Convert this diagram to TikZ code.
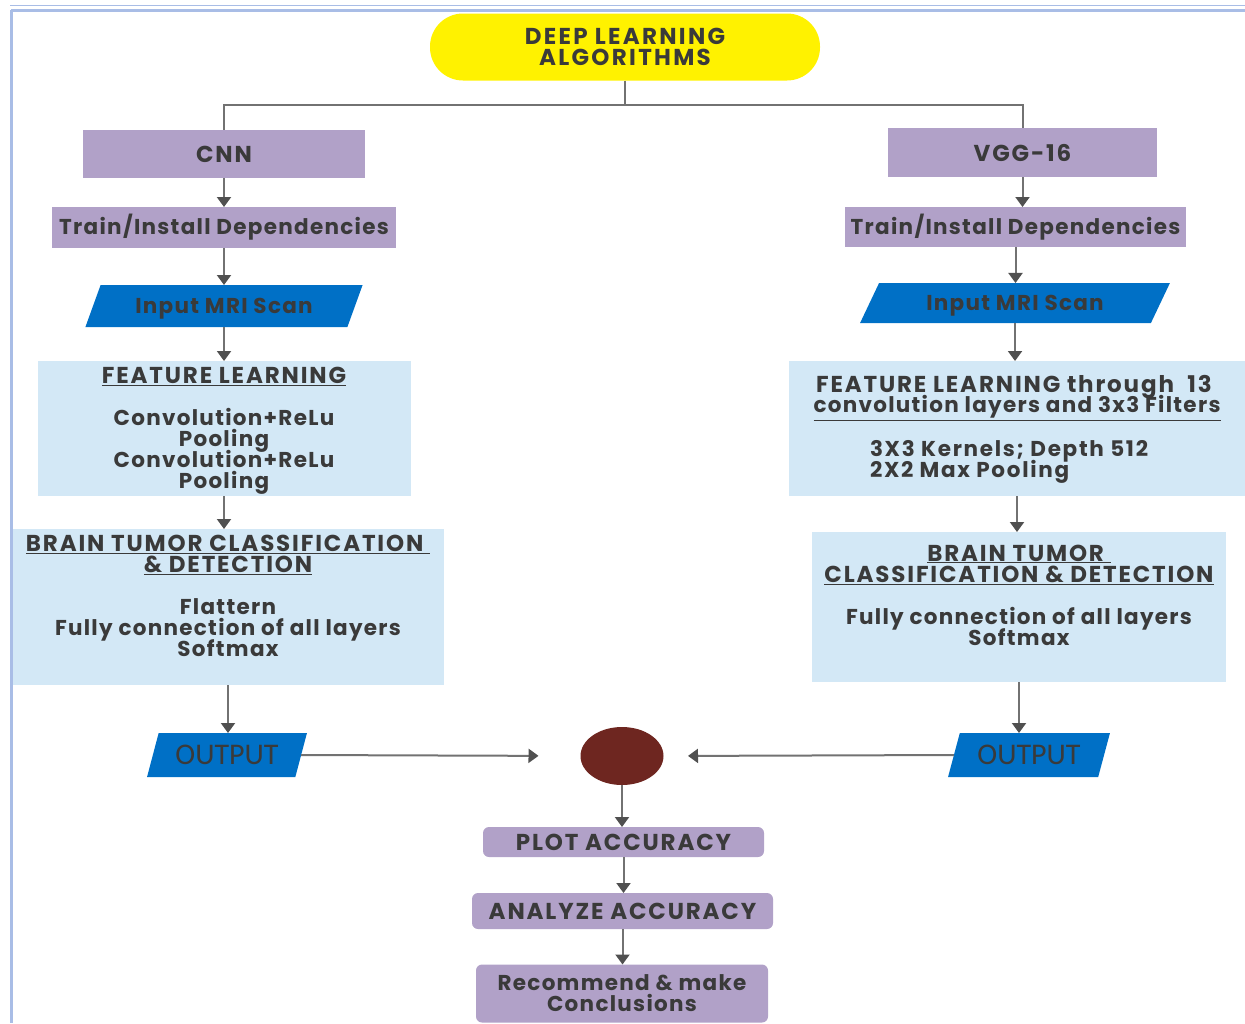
\documentclass[tikz,border=0pt]{standalone}
\usepackage{fontspec}
\setmainfont{Poppins}[LetterSpace=6.0]
\newfontfamily\capf{Poppins}[LetterSpace=8.0]
\newfontfamily\outfont{Carlito}
\usetikzlibrary{shapes.geometric,arrows.meta}
\definecolor{lav}{HTML}{B1A1C8}
\definecolor{lblue}{HTML}{D3E8F6}
\definecolor{pblue}{HTML}{0070C6}
\definecolor{dred}{HTML}{6E2620}
\definecolor{framec}{HTML}{A9BDE6}
\definecolor{txt}{HTML}{3A3A3A}
\definecolor{lnc}{HTML}{727272}
\definecolor{tipc}{HTML}{505050}
\newcommand\hcap[1]{{\capf\bfseries\fontsize{23}{21}\selectfont #1}}
\setlength{\lineskiplimit}{-100pt}
\begin{document}
\begin{tikzpicture}[x=1pt,y=-1pt,
  every node/.style={inner sep=0pt, outer sep=0pt, text=txt, font=\fontsize{21.5}{21}\selectfont\bfseries},
  purp/.style={rectangle, fill=lav},
  rpurp/.style={rectangle, fill=lav, rounded corners=6pt},
  lbox/.style={rectangle, fill=lblue},
  para/.style={trapezium, trapezium stretches=true, fill=pblue, trapezium left angle=#1, trapezium right angle=180-#1},
  txtn/.style={align=center},
  outtxt/.style={font=\outfont\fontsize{30}{30}\selectfont},
  conn/.style={draw=lnc, line width=2pt},
  arr/.style={conn, -{Triangle[width=14pt,length=10pt,color=tipc]}}
]
\useasboundingbox (0,0) rectangle (1245,1023);
% frame
\draw[framec, line width=1pt] (10,5.5) -- (1245,5.5);
\draw[framec, line width=3pt] (11,10) -- (1245,10);
\draw[framec, line width=3pt] (11,10) -- (11,1023);

% nodes
\node[rectangle, fill=yellow, rounded corners=33pt, minimum width=390pt, minimum height=67pt, align=center] (dl) at (625,47) {\hcap{\addfontfeatures{LetterSpace=10.0}DEEP LEARNING}\\\hcap{\addfontfeatures{LetterSpace=10.0}ALGORITHMS}};
\node[purp, minimum width=282pt, minimum height=48pt] (cnn) at (224,154) {\hcap{CNN}};
\node[purp, minimum width=269pt, minimum height=49pt] (vgg) at (1022.5,152.5) {\hcap{VGG-16}};
\node[purp, minimum width=344pt, minimum height=41pt] (trainL) at (224,227.5) {Train/Install Dependencies};
\node[purp, minimum width=341pt, minimum height=40pt] (trainR) at (1015.5,227) {Train/Install Dependencies};
\node[para=54.5, minimum width=278pt, minimum height=42pt, text depth=0pt] (inL) at (224,306) {Input MRI Scan};
\node[para=51, minimum width=310pt, minimum height=40pt, text depth=0pt] (inR) at (1015,303) {Input MRI Scan};
\node[lbox, minimum width=373pt, minimum height=135pt] (featL) at (224,428.5) {};
\node[lbox, minimum width=456pt, minimum height=135pt] (featR) at (1017,428.5) {};
\node[lbox, minimum width=431pt, minimum height=156pt] (btL) at (228,607) {};
\node[lbox, minimum width=414pt, minimum height=150pt] (btR) at (1019,607) {};
\node[para=66, minimum width=160pt, minimum height=44pt, outtxt] (outL) at (227,755) {OUTPUT};
\node[para=66, minimum width=162pt, minimum height=44pt, outtxt] (outR) at (1029,755) {OUTPUT};
\node[ellipse, fill=dred, minimum width=83pt, minimum height=58pt] (circ) at (622,756) {};
\node[rpurp, minimum width=281pt, minimum height=30pt] (plot) at (623.5,842) {\hcap{PLOT ACCURACY}};
\node[rpurp, minimum width=301pt, minimum height=36pt] (anal) at (622.5,911) {\hcap{ANALYZE ACCURACY}};
\node[rpurp, minimum width=292pt, minimum height=58pt, align=center] (rec) at (622,993.5) {Recommend \& make\\Conclusions};

% texts inside the light boxes
\node[txtn] (featLt) at (224,431) {\underline{\hcap{FEATURE LEARNING}}\\[21pt]Convolution+ReLu\\Pooling\\Convolution+ReLu\\Pooling};
\node[txtn] (featRt1) at (1014,387) {\hcap{FEATURE LEARNING through\ \ 13}};
\node[txtn] (featRt2) at (1017,408) {\underline{convolution layers and 3x3 Filters}};
\node[anchor=base west] (featRt3) at (870,456) {\addfontfeatures{LetterSpace=8.0}3X3 Kernels; Depth 512};
\node[anchor=base west] (featRt4) at (870,477) {\addfontfeatures{LetterSpace=8.0}2X2 Max Pooling};
\node[txtn] (btLt) at (228,596) {\underline{\hcap{BRAIN TUMOR CLASSIFICATION }}\\\underline{\hcap{\& DETECTION}}\\[21pt]Flattern\\Fully connection of all layers\\Softmax};
\node[txtn] (btRt) at (1019,595) {\underline{\hcap{BRAIN TUMOR }}\\\underline{\hcap{CLASSIFICATION \& DETECTION}}\\[21pt]Fully connection of all layers\\Softmax};

% connectors
\coordinate (split) at (625,105);
\draw[conn] (dl.south) -- (split) -| (cnn.north);
\draw[conn] (split) -| (vgg.north);
\draw[arr] (cnn.south) -- (cnn.south |- trainL.north);
\draw[arr] (trainL.south) -- (trainL.south |- inL.north);
\draw[arr] (inL.south) -- (inL.south |- featL.north);
\draw[arr] (featL.south) -- (featL.south |- btL.north);
\draw[arr] (btL.south) -- (btL.south |- outL.north);
\draw[arr] (vgg.south) -- (vgg.south |- trainR.north);
\draw[arr] (trainR.south) -- (trainR.south |- inR.north);
\draw[arr] (inR.south) -- (inR.south |- featR.north);
\draw[arr] (featR.south) -- (featR.south |- btR.north);
\draw[arr] (btR.south) -- (btR.south |- outR.north);
\draw[arr, shorten >=42pt] (outL.east) -- (circ.west);
\draw[arr, shorten >=24.5pt] (outR.west) -- (circ.east);
\draw[arr] (circ.south) -- (circ.south |- plot.north);
\draw[arr] (plot.south) -- (plot.south |- anal.north);
\draw[arr] (anal.south) -- (anal.south |- rec.north);
\end{tikzpicture}
\end{document}
